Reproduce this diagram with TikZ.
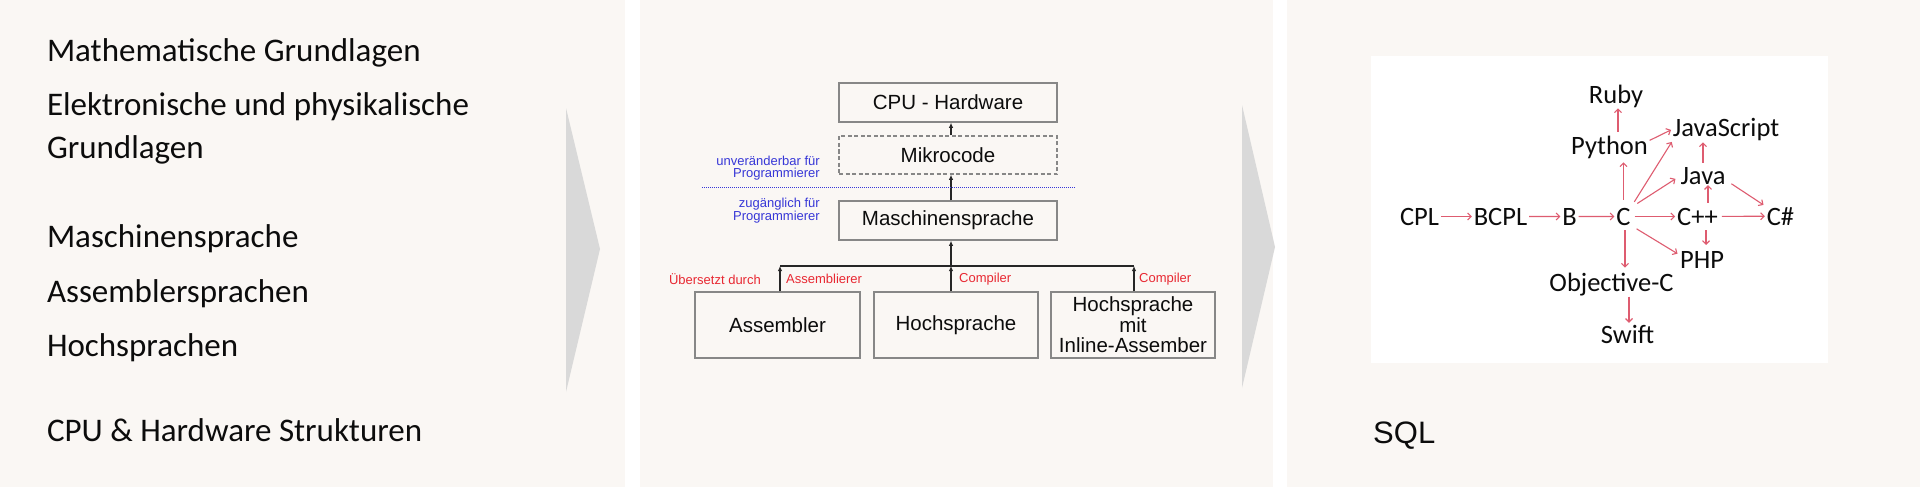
\documentclass[tikz,border=0pt]{standalone}
\usepackage{fontspec}
\setmainfont{Carlito}
\newfontfamily\arialf{Liberation Sans}
\usetikzlibrary{arrows.meta,calc}
\definecolor{beige}{RGB}{250,247,244}
\definecolor{chev}{RGB}{217,217,217}
\definecolor{boxgray}{RGB}{135,135,135}
\definecolor{lblue}{RGB}{55,55,215}
\definecolor{lred}{RGB}{232,40,50}
\definecolor{pinkred}{RGB}{222,92,112}
\definecolor{txt}{RGB}{12,12,12}
\begin{document}
\begin{tikzpicture}[x=1pt,y=-1pt,
  ptext/.style={anchor=base west,inner sep=0pt,outer sep=0pt,text=txt,font=\fontsize{33}{40}\selectfont},
  panelbox/.style={draw=boxgray,line width=1.5pt,inner sep=0pt,text=txt,font=\arialf\fontsize{20.5}{20.5}\selectfont,align=center},
  bluelbl/.style={inner sep=0pt,text=lblue,font=\arialf\fontsize{13}{12}\selectfont,align=right,anchor=east},
  redlbl/.style={inner sep=0pt,text=lred,font=\arialf\fontsize{13}{13}\selectfont},
  blackarr/.style={draw=black!85,line width=1.7pt,-{Latex[length=5pt,width=4.5pt]}},
  langnode/.style={anchor=base,inner sep=0pt,outer sep=0pt,text=txt,font=\fontsize{26.5}{30}\selectfont},
  redarr/.style={draw=pinkred,line width=1.1pt,-{Straight Barb[length=3.5pt,width=7pt]}}
]
\useasboundingbox (0,0) rectangle (1920,487);
\fill[white] (0,0) rectangle (1920,487);
% panels
\fill[beige] (0,0) rectangle (625,487);
\fill[beige] (640,0) rectangle (1273,487);
\fill[beige] (1287,0) rectangle (1920,487);
% chevrons
\fill[chev] (566,108) -- (600,249) -- (566,392) -- cycle;
\fill[chev] (1242,105) -- (1275,247) -- (1242,388) -- cycle;

% ---------- panel 1 ----------
\node[ptext] (p1a) at (47,62) {Mathematische Grundlagen};
\node[ptext] (p1b) at (47,115) {Elektronische und physikalische};
\node[ptext] (p1c) at (47,158) {Grundlagen};
\node[ptext] (p1d) at (47,247) {Maschinensprache};
\node[ptext] (p1e) at (47,302) {Assemblersprachen};
\node[ptext] (p1f) at (47,356) {Hochsprachen};
\node[ptext] (p1g) at (47,441) {CPU \& Hardware Strukturen};

% ---------- panel 2 ----------
\node[panelbox,minimum width=218pt,minimum height=39pt] (cpu) at (948,102.5) {CPU - Hardware};
\node[panelbox,dash pattern=on 4pt off 2.5pt,minimum width=218pt,minimum height=38pt] (mikro) at (948,155) {Mikrocode};
\node[panelbox,minimum width=218pt,minimum height=39pt] (masch) at (948,220.5) {Maschinensprache};
\node[panelbox,minimum width=165pt,minimum height=66pt] (asm) at (777.5,325) {Assembler};
\node[panelbox,minimum width=164pt,minimum height=66pt] (hoch) at (956,325) {Hochsprache};
\node[panelbox,minimum width=164pt,minimum height=66pt] (inl) at (1133,325) {Hochsprache\\mit\\Inline-Assember};

\draw[blackarr] ([xshift=3pt]mikro.north) -- ([xshift=3pt]cpu.south);
\draw[blackarr] ([xshift=3pt]masch.north) -- ([xshift=3pt]mikro.south);
\coordinate (busL) at (780,266);
\coordinate (busR) at (1134,266);
\coordinate (busM) at (951,266);
\draw[draw=black!85,line width=1.7pt] (busL) -- (busR);
\draw[blackarr] (busM) -- (busM |- masch.south);
\draw[blackarr] ([xshift=2.5pt]asm.north) -- ([xshift=2.5pt]asm.north |- busL);
\draw[blackarr] ([xshift=-5pt]hoch.north) -- ([xshift=-5pt]hoch.north |- busL);
\draw[blackarr] ([xshift=1pt]inl.north) -- ([xshift=1pt]inl.north |- busL);

\coordinate (dotL) at (702,187);
\coordinate (dotR) at (1076,187);
\draw[lblue,line width=1pt,dash pattern=on 1pt off 1pt] (dotL) -- (dotR);

\node[bluelbl] (unv) at (820,168.6) {unveränderbar für\\Programmierer};
\node[bluelbl] (zug) at (820,210.6) {zugänglich für\\Programmierer};

\node[redlbl,anchor=east] (ueb) at (761,279) {Übersetzt durch};
\node[redlbl,anchor=west] (asml) at (786,279) {Assemblierer};
\node[redlbl,anchor=west] (comp1) at (959,279) {Compiler};
\node[redlbl,anchor=west] (comp2) at (1139,279) {Compiler};

% ---------- panel 3 ----------
\fill[white] (1371,56) rectangle (1828,363);
\node[langnode] (cpl) at (1419.5,225) {CPL};
\node[langnode] (bcpl) at (1500.5,225) {BCPL};
\node[langnode] (b) at (1569.5,225) {B};
\node[langnode] (c) at (1623.5,225) {C};
\node[langnode] (cpp) at (1697.5,225) {C++};
\node[langnode] (cs) at (1780.5,225) {C\#};
\node[langnode] (ruby) at (1616,103) {Ruby};
\node[langnode] (py) at (1609.5,154) {Python};
\node[langnode] (js) at (1726,136) {JavaScript};
\node[langnode] (java) at (1703,184) {Java};
\node[langnode] (php) at (1702,268) {PHP};
\node[langnode] (objc) at (1611.5,291) {Objective-C};
\node[langnode] (swift) at (1627.5,343) {Swift};

\draw[redarr,shorten <=2pt,shorten >=2pt] (cpl) -- (bcpl);
\draw[redarr,shorten <=2pt,shorten >=2pt] (bcpl) -- (b);
\draw[redarr,shorten <=2pt,shorten >=2pt] (b) -- (c);
\draw[redarr,shorten <=4pt,shorten >=2pt] (c) -- (cpp);
\draw[redarr,shorten <=4pt,shorten >=2pt] (cpp) -- (cs);
\draw[redarr,shorten <=8pt,shorten >=4pt] (c.north) -- (c.north |- py.south);
\draw[redarr,shorten <=4pt,shorten >=1pt] ([xshift=8.5pt]py.north) -- ([xshift=8.5pt]py.north |- ruby.south);
\draw[redarr,shorten <=2pt,shorten >=2pt] ($(py.north east)!0.5!(py.east)$) -- (js.west);
\draw[redarr,shorten <=7pt,shorten >=2pt] (c.north east) -- (js.south west);
\draw[redarr,shorten <=8pt,shorten >=6pt] (c.north east) -- (java.west);
\draw[redarr,shorten <=4pt,shorten >=2pt] (java.north) -- (java.north |- js.south);
\draw[redarr,shorten <=5pt,shorten >=1pt] ([xshift=10.5pt]cpp.north) -- ([xshift=10.5pt]cpp.north |- java.south);
\draw[redarr,shorten <=7pt,shorten >=4pt] ($(java.east)!0.5!(java.south east)$) -- (cs.north west);
\draw[redarr,shorten <=7pt,shorten >=3pt] (c.south east) -- ($(php.west)!0.5!(php.north west)$);
\draw[redarr,shorten <=5pt,shorten >=6pt] ([xshift=8.5pt]cpp.south) -- ([xshift=8.5pt]cpp.south |- php.north);
\draw[redarr,shorten <=5pt,shorten >=5pt] ([xshift=1.5pt]c.south) -- ([xshift=1.5pt]c.south |- objc.north);
\draw[redarr,shorten <=1pt,shorten >=2pt] ([xshift=17.5pt]objc.south) -- ([xshift=17.5pt]objc.south |- swift.north);

\node[anchor=base west,inner sep=0pt,text=txt,font=\arialf\fontsize{31}{36}\selectfont] (sql) at (1373,443) {SQL};
\end{tikzpicture}
\end{document}
